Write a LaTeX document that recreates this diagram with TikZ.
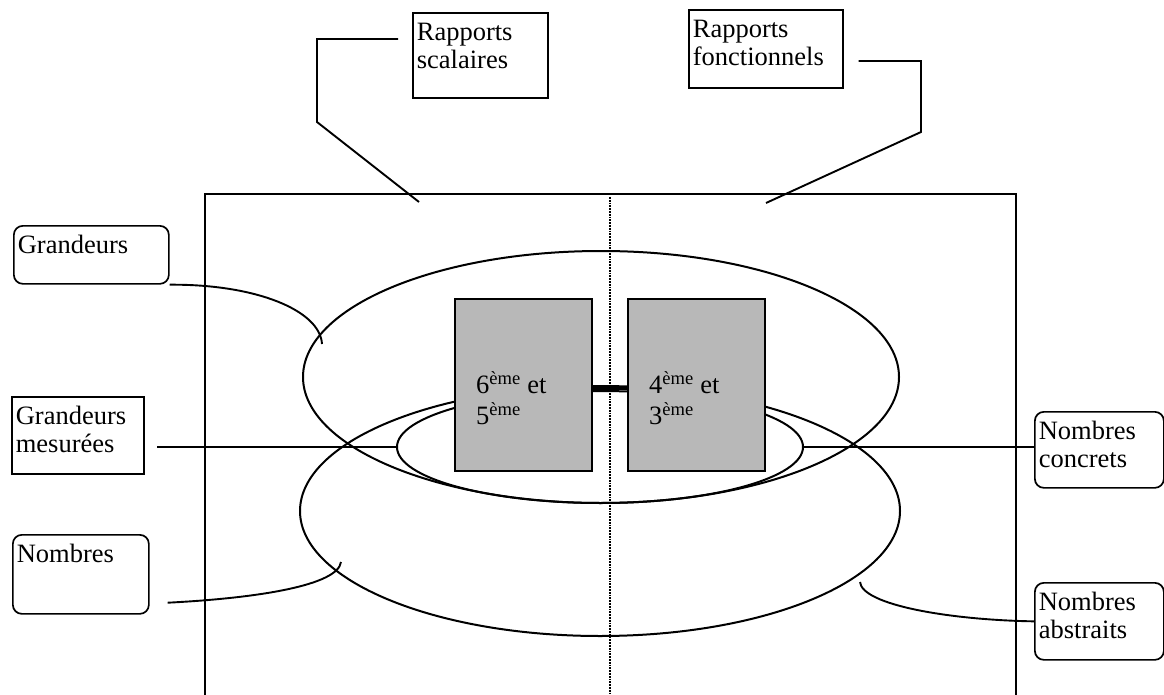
\documentclass[tikz,border=0pt]{standalone}
\usepackage{fontspec}
\setmainfont{Liberation Serif}
\usetikzlibrary{shapes.geometric,calc}

\tikzset{
  cadre/.style={draw, line width=1.7pt, anchor=north west, inner xsep=4pt, inner ysep=8pt},
  cadrerond/.style={cadre, rounded corners=9pt},
  niveau/.style={cadre, fill=black!28, line width=2.2pt, inner xsep=21pt},
  zone/.style={draw, ellipse, line width=2pt, inner sep=0pt},
  lien/.style={line width=1.9pt}
}
\newcommand{\boite}[4][0pt]{\parbox[t][#3pt][t]{#2pt}{\raggedright\vspace*{#1}\strut #4}}

\begin{document}
\begin{tikzpicture}[x=1pt, y=-1pt, font=\fontsize{26.5}{28}\selectfont]
    \useasboundingbox (0,0) rectangle (1164,695);

    \draw[lien] (205,695) -- (205,194) -- (1016,194) -- (1016,695);

    \node[zone, minimum width=596pt, minimum height=252pt] (haut) at (601,377) {};
    \node[zone, minimum width=406pt, minimum height=112pt] (mesure) at (600,447) {};
    \node[zone, minimum width=600pt, minimum height=250pt] (bas) at (600,511) {};

    \draw[line width=1.8pt, densely dotted] (610,197) -- (610,695);

    \node[niveau] (g65) at (454,298) {\boite[64pt]{95}{156}{6\textsuperscript{ème} et\\5\textsuperscript{ème}}};
    \node[niveau] (g43) at (627,298) {\boite[64pt]{95}{156}{4\textsuperscript{ème} et\\3\textsuperscript{ème}}};
    \draw[line width=4pt] ([yshift=-3pt]g65.east) -- ([yshift=-3pt]g43.west);

    \node[cadre] (scal) at (412,12) {\boite{127}{69}{Rapports\\scalaires}};
    \node[cadre] (fonc) at (688,9) {\boite{146}{62}{Rapports\\fonctionnels}};
    \node[cadrerond] (grand) at (13,225) {\boite{147}{42}{Grandeurs}};
    \node[cadre] (mes) at (11,396) {\boite{124}{61}{Grandeurs\\mesurées}};
    \node[cadrerond] (nomb) at (12,534) {\boite{128}{63}{Nombres}};
    \node[cadrerond] (conc) at (1034,411) {\boite{121}{60}{Nombres\\concrets}};
    \node[cadrerond] (abst) at (1034,582) {\boite{121}{61}{Nombres\\abstraits}};

    \coordinate (scalfin) at (419,202);
    \coordinate (foncfin) at (766,203);
    \coordinate (grandfin) at (322,344);
    \coordinate (nombfin) at (341,562);
    \coordinate (abstfin) at (860,582);

    \draw[lien] ($(scal.north west)+(-14,27)$) -| (317,122) -- (scalfin);
    \draw[lien] ($(fonc.north east)+(15,52)$) -| (921,132) -- (foncfin);
    \draw[lien] (grand.south east) .. controls (255,284) and (320,310) .. (grandfin);
    \draw[lien] ($(mesure.west)-(239,0)$) -- (mesure.west);
    \draw[lien] (mesure.east) -- (mesure.east -| conc.west);
    \draw[lien] ($(nomb.south east)+(18,-12)$) .. controls (260,598) and (338,585) .. (nombfin);
    \draw[lien] (abst.west) .. controls (950,620) and (862,605) .. (abstfin);
\end{tikzpicture}
\end{document}
